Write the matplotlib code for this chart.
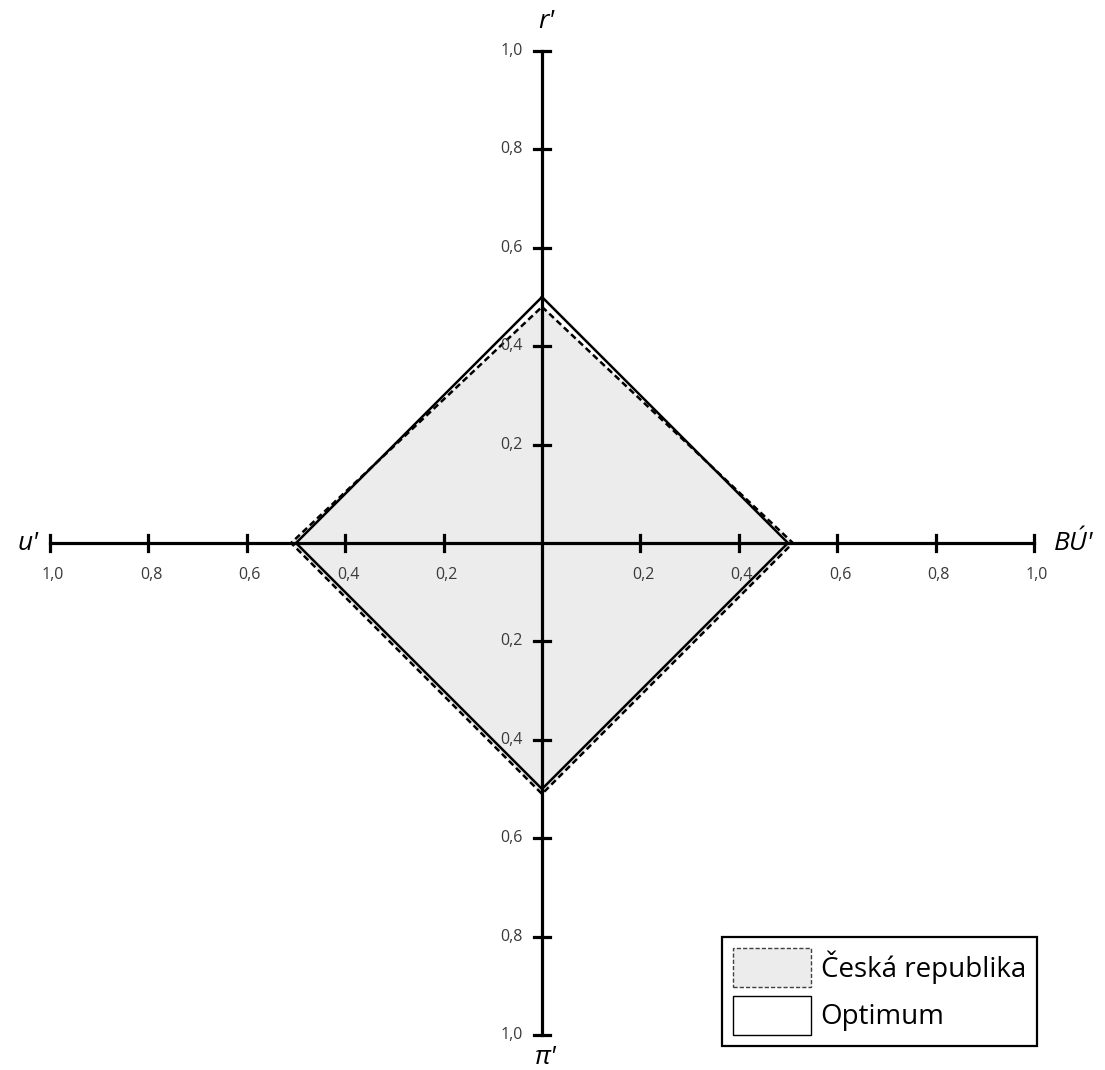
import numpy as np
import matplotlib.pyplot as plt
from matplotlib.patches import Patch

# axis order: r' (up), BU' (right), pi' (down), u' (left)
axis_names = ["r'", "B\u00da'", "\u03c0'", "u'"]
cz_values = [0.48, 0.51, 0.51, 0.51]
opt_values = [0.5, 0.5, 0.5, 0.5]
tick_vals = [0.2, 0.4, 0.6, 0.8, 1.0]
tick_labels = ["0,2", "0,4", "0,6", "0,8", "1,0"]

plt.rcParams['font.family'] = ['Open Sans', 'DejaVu Sans']

W, H = 1105, 1070
cx, cy, scale = 542, 543, 492.0

fig = plt.figure(figsize=(W / 100, H / 100), dpi=100)
ax = fig.add_axes([0, 0, 1, 1])
ax.set_xlim(-cx / scale, (W - cx) / scale)
ax.set_ylim(-(H - cy) / scale, cy / scale)
ax.set_axis_off()

dirs = [(0, 1), (1, 0), (0, -1), (-1, 0)]


def to_xy(vals):
    xs = [v * d[0] for v, d in zip(vals, dirs)]
    ys = [v * d[1] for v, d in zip(vals, dirs)]
    return xs + xs[:1], ys + ys[:1]


# Czech Republic polygon
xs, ys = to_xy(cz_values)
ax.fill(xs, ys, color='#ececec', zorder=1)
ax.plot(xs, ys, color='black', lw=1.8, ls=(0, (2.5, 1.5)), zorder=3)

# axes
tl = 8 / scale
ax.plot([-1, 1], [0, 0], color='black', lw=2.3, zorder=2)
ax.plot([0, 0], [-1, 1], color='black', lw=2.3, zorder=2)
for t, lab in zip(tick_vals, tick_labels):
    for s in (-1, 1):
        ax.plot([s * t, s * t], [-tl, tl], color='black', lw=2.3, zorder=2)
        ax.plot([-tl, tl], [s * t, s * t], color='black', lw=2.3, zorder=2)
        ax.text(s * t + 3 / scale, -32 / scale, lab, ha='center', va='center',
                fontsize=11.5, color='#3a3a3a')
        ax.text(-19 / scale, s * t, lab, ha='right', va='center',
                fontsize=11.5, color='#3a3a3a')

# optimum polygon
xs, ys = to_xy(opt_values)
ax.plot(xs, ys, color='black', lw=1.8, zorder=4)

# axis names
name_pos = [(4, 522), (532, 0), (4, -514), (-514, 0)]
for name, (dx, dy) in zip(axis_names, name_pos):
    ax.text(dx / scale, dy / scale, name, ha='center', va='center',
            fontsize=19, style='italic', color='black')

handles = [Patch(facecolor='#ececec', edgecolor='#404040', ls=(0, (3, 1.5)), lw=1.0,
                 label='\u010cesk\u00e1 republika'),
           Patch(facecolor='white', edgecolor='black', lw=1.0, label='Optimum')]
leg = ax.legend(handles=handles, loc='lower right', bbox_to_anchor=(1037 / W, 1 - 1046 / H),
                fontsize=20, frameon=True, fancybox=False, edgecolor='black', framealpha=1,
                handlelength=2.8, handleheight=1.8, handletextpad=0.35,
                borderpad=0.4, labelspacing=0.3, borderaxespad=0)
leg.get_frame().set_linewidth(1.6)

fig.savefig('out.png', dpi=100)
